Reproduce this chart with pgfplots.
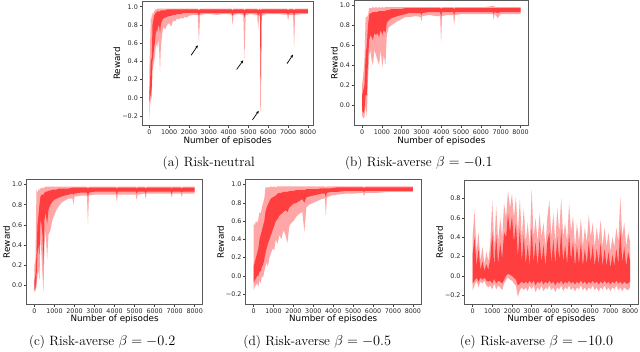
\documentclass[border=0pt]{standalone}
\usepackage{fontspec}
\usepackage{pgfplots}
\usepackage{pgfplotstable}
\pgfplotsset{compat=1.18}
\usepgfplotslibrary{fillbetween}
\usetikzlibrary{arrows.meta}
\newfontfamily\dejavu{DejaVu Sans}
\definecolor{rwd}{RGB}{255,45,45}

% columns: episode, outer max, outer min, dense core max, dense core min
\pgfplotstableread{
x hi lo chi clo
0 0.30 -0.25 0.05 -0.05
40 0.60 -0.08 0.20 0.00
80 0.93 -0.02 0.45 0.05
120 0.85 0.00 0.40 0.10
160 0.93 0.30 0.80 0.40
200 0.92 0.35 0.85 0.45
240 0.95 0.40 0.90 0.55
280 0.96 0.45 0.92 0.60
320 0.97 0.55 0.93 0.70
360 0.97 0.60 0.94 0.75
400 0.98 0.55 0.95 0.72
450 0.98 0.65 0.95 0.80
500 0.98 0.50 0.95 0.78
540 0.98 0.28 0.95 0.70
580 0.98 0.55 0.96 0.80
650 0.98 0.70 0.96 0.85
700 0.98 0.78 0.96 0.87
800 0.98 0.75 0.96 0.88
900 0.98 0.80 0.97 0.89
1000 0.98 0.82 0.97 0.90
1100 0.98 0.78 0.97 0.90
1200 0.98 0.85 0.97 0.91
1300 0.98 0.84 0.97 0.91
1400 0.98 0.87 0.97 0.92
1500 0.98 0.86 0.97 0.92
1600 0.98 0.88 0.97 0.92
1700 0.98 0.87 0.97 0.93
1800 0.98 0.89 0.97 0.93
1900 0.98 0.88 0.97 0.93
2000 0.98 0.90 0.97 0.93
2200 0.98 0.91 0.97 0.93
2440 0.98 0.91 0.97 0.93
2500 0.97 0.60 0.96 0.90
2560 0.98 0.91 0.97 0.93
2800 0.98 0.92 0.97 0.93
3100 0.98 0.92 0.97 0.93
3400 0.98 0.91 0.97 0.93
3700 0.98 0.92 0.97 0.93
4000 0.98 0.92 0.97 0.93
4150 0.98 0.91 0.97 0.93
4200 0.97 0.80 0.96 0.90
4250 0.98 0.91 0.97 0.93
4500 0.98 0.92 0.97 0.93
4740 0.98 0.91 0.97 0.93
4800 0.97 0.43 0.96 0.88
4860 0.98 0.91 0.97 0.93
5100 0.98 0.92 0.97 0.93
5440 0.98 0.91 0.97 0.93
5490 0.97 0.75 0.96 0.90
5540 0.98 0.90 0.97 0.93
5580 0.98 0.90 0.97 0.92
5620 0.97 -0.17 0.96 -0.12
5660 0.98 0.90 0.97 0.93
5900 0.98 0.92 0.97 0.93
6200 0.98 0.92 0.97 0.93
6500 0.98 0.92 0.97 0.93
6950 0.98 0.91 0.97 0.93
7000 0.97 0.85 0.96 0.91
7050 0.98 0.91 0.97 0.93
7250 0.98 0.91 0.97 0.93
7300 0.97 0.55 0.96 0.90
7350 0.98 0.91 0.97 0.93
7700 0.98 0.92 0.97 0.93
8000 0.98 0.92 0.97 0.93
}\ta

\pgfplotstableread{
x hi lo chi clo
0 0.20 -0.10 0.10 -0.05
60 0.30 -0.13 0.15 -0.08
120 0.45 -0.12 0.20 -0.05
180 0.88 0.00 0.50 0.10
240 0.88 -0.12 0.60 0.10
300 0.90 0.25 0.80 0.45
360 0.97 0.50 0.90 0.65
420 0.97 0.55 0.92 0.70
480 0.97 0.45 0.92 0.68
550 0.98 0.40 0.93 0.65
620 0.97 0.55 0.93 0.72
700 0.98 0.50 0.93 0.70
780 0.97 0.45 0.93 0.72
860 0.98 0.40 0.94 0.68
940 0.97 0.55 0.94 0.75
1020 0.98 0.38 0.94 0.70
1100 0.97 0.50 0.94 0.75
1180 0.98 0.40 0.94 0.72
1250 0.98 0.70 0.95 0.82
1350 0.98 0.78 0.95 0.85
1500 0.98 0.80 0.96 0.87
1650 0.98 0.82 0.96 0.88
1800 0.98 0.84 0.96 0.89
2000 0.98 0.86 0.96 0.90
2200 0.98 0.88 0.97 0.91
2400 0.98 0.88 0.97 0.92
2700 0.98 0.89 0.97 0.92
2950 0.98 0.88 0.97 0.92
3000 0.98 0.84 0.97 0.90
3050 0.98 0.89 0.97 0.92
3400 0.98 0.90 0.97 0.93
3700 0.98 0.89 0.97 0.93
3940 0.98 0.89 0.97 0.93
3990 0.97 0.62 0.96 0.88
4040 0.98 0.89 0.97 0.93
4300 0.98 0.90 0.97 0.93
4600 0.98 0.90 0.97 0.93
4650 0.97 0.80 0.96 0.90
4700 0.98 0.90 0.97 0.93
5000 0.98 0.91 0.97 0.93
5400 0.98 0.91 0.97 0.93
5800 0.98 0.91 0.97 0.93
6200 0.98 0.91 0.97 0.93
6600 0.99 0.91 0.97 0.93
6650 0.99 0.85 0.97 0.91
6700 0.98 0.91 0.97 0.93
6850 0.98 0.87 0.97 0.92
7000 0.98 0.91 0.97 0.93
7400 0.98 0.91 0.97 0.93
7800 0.98 0.91 0.97 0.93
8000 0.98 0.91 0.97 0.93
}\tb

\pgfplotstableread{
x hi lo chi clo
0 0.20 -0.07 0.05 -0.05
50 0.25 -0.06 0.10 -0.03
100 0.95 -0.02 0.30 0.05
150 0.92 0.10 0.60 0.30
200 0.95 0.15 0.70 0.40
250 0.95 0.05 0.80 0.30
300 0.96 0.50 0.88 0.65
350 0.97 0.30 0.90 0.60
400 0.96 0.10 0.90 0.50
450 0.97 -0.07 0.90 0.20
500 0.97 0.40 0.92 0.65
560 0.98 0.55 0.93 0.72
630 0.98 0.25 0.93 0.60
700 0.98 0.50 0.94 0.75
800 0.98 0.55 0.94 0.80
900 0.98 0.65 0.95 0.83
1000 0.98 0.70 0.95 0.85
1100 0.98 0.75 0.95 0.86
1200 0.98 0.78 0.96 0.87
1350 0.98 0.82 0.96 0.88
1500 0.98 0.84 0.96 0.89
1700 0.98 0.86 0.96 0.90
1900 0.98 0.86 0.97 0.91
1950 0.98 0.80 0.97 0.90
2000 0.98 0.88 0.97 0.91
2300 0.98 0.89 0.97 0.92
2620 0.98 0.89 0.97 0.92
2670 0.97 0.60 0.96 0.88
2720 0.98 0.89 0.97 0.92
3000 0.98 0.90 0.97 0.93
3400 0.98 0.90 0.97 0.93
3800 0.98 0.90 0.97 0.93
4060 0.98 0.90 0.97 0.93
4110 0.97 0.83 0.96 0.90
4160 0.98 0.90 0.97 0.93
4500 0.98 0.90 0.97 0.93
5050 0.98 0.90 0.97 0.93
5100 0.97 0.85 0.96 0.91
5150 0.98 0.90 0.97 0.93
5500 0.98 0.91 0.97 0.93
5550 0.97 0.86 0.96 0.91
5600 0.98 0.91 0.97 0.93
6200 0.98 0.91 0.97 0.93
6800 0.98 0.91 0.97 0.93
6850 0.98 0.87 0.96 0.91
6900 0.98 0.91 0.97 0.93
7300 0.98 0.91 0.97 0.93
7350 0.97 0.88 0.96 0.92
7400 0.98 0.91 0.97 0.93
8000 0.98 0.91 0.97 0.93
}\tc

\pgfplotstableread{
x hi lo chi clo
0 0.58 -0.16 0.10 -0.08
60 0.55 -0.12 0.15 -0.05
120 0.60 -0.10 0.20 -0.03
180 0.58 -0.08 0.25 0.00
240 0.62 -0.12 0.30 0.00
300 0.70 -0.05 0.40 0.05
360 0.68 -0.08 0.45 0.05
420 0.75 0.00 0.50 0.10
480 0.80 -0.02 0.55 0.12
540 0.85 0.05 0.60 0.18
600 0.97 0.10 0.70 0.25
660 0.97 0.15 0.75 0.30
720 0.97 0.10 0.78 0.35
800 0.97 0.20 0.82 0.40
880 0.98 0.25 0.85 0.45
960 0.97 0.30 0.86 0.50
1040 0.98 0.28 0.87 0.55
1120 0.97 0.40 0.88 0.60
1200 0.98 0.35 0.90 0.62
1300 0.98 0.45 0.91 0.66
1400 0.98 0.40 0.91 0.68
1500 0.98 0.50 0.92 0.70
1600 0.98 0.45 0.92 0.72
1700 0.98 0.36 0.92 0.70
1800 0.98 0.55 0.93 0.75
1900 0.98 0.58 0.93 0.77
2000 0.98 0.60 0.93 0.79
2150 0.98 0.65 0.94 0.80
2300 0.98 0.68 0.94 0.82
2450 0.98 0.70 0.94 0.84
2550 0.98 0.48 0.94 0.80
2650 0.98 0.75 0.95 0.86
2800 0.98 0.78 0.95 0.87
3000 0.98 0.80 0.95 0.88
3200 0.98 0.82 0.95 0.89
3400 0.98 0.84 0.96 0.90
3580 0.98 0.85 0.96 0.90
3630 0.97 0.65 0.96 0.86
3680 0.98 0.86 0.96 0.91
3900 0.98 0.88 0.96 0.92
4200 0.98 0.89 0.97 0.92
4600 0.98 0.90 0.97 0.93
5000 0.98 0.90 0.97 0.93
5500 0.98 0.91 0.97 0.93
5550 0.97 0.87 0.96 0.92
5600 0.98 0.91 0.97 0.93
6200 0.98 0.91 0.97 0.93
6800 0.98 0.92 0.97 0.93
7400 0.98 0.92 0.97 0.93
8000 0.98 0.92 0.97 0.93
}\td

\pgfplotstableread{
x hi lo chi clo
0 0.40 -0.15 0.22 -0.08
100 0.68 -0.10 0.40 -0.05
200 0.25 -0.05 0.10 -0.02
300 0.45 -0.12 0.28 -0.06
400 0.15 -0.06 0.06 -0.02
500 0.30 -0.08 0.15 -0.04
600 0.12 -0.05 0.05 -0.02
700 0.25 -0.10 0.12 -0.05
800 0.15 -0.12 0.06 -0.06
900 0.35 -0.10 0.18 -0.05
1000 0.78 -0.14 0.45 -0.08
1100 0.30 -0.08 0.10 -0.03
1200 0.72 -0.14 0.42 -0.08
1300 0.35 -0.10 0.12 -0.05
1400 0.60 -0.12 0.35 -0.06
1500 0.40 -0.15 0.18 -0.08
1600 0.75 -0.08 0.45 -0.04
1700 0.60 -0.04 0.40 0.00
1800 0.88 -0.02 0.65 0.02
1900 0.70 -0.04 0.45 0.01
2000 0.85 -0.05 0.62 0.00
2100 0.60 -0.08 0.35 -0.02
2200 0.82 -0.10 0.55 -0.04
2300 0.45 -0.22 0.20 -0.10
2400 0.80 -0.15 0.50 -0.08
2500 0.40 -0.12 0.15 -0.06
2600 0.70 -0.15 0.42 -0.08
2700 0.35 -0.12 0.12 -0.06
2800 0.55 -0.16 0.32 -0.08
2900 0.30 -0.10 0.10 -0.05
3000 0.90 -0.14 0.50 -0.08
3100 0.40 -0.10 0.14 -0.05
3200 0.60 -0.17 0.35 -0.10
3300 0.35 -0.12 0.10 -0.06
3400 0.65 -0.15 0.38 -0.08
3500 0.40 -0.10 0.14 -0.05
3600 0.55 -0.16 0.32 -0.09
3700 0.30 -0.12 0.10 -0.06
3800 0.62 -0.14 0.36 -0.08
3900 0.78 -0.10 0.45 -0.05
4000 0.40 -0.15 0.14 -0.08
4100 0.65 -0.12 0.38 -0.06
4200 0.35 -0.17 0.12 -0.10
4300 0.70 -0.12 0.40 -0.06
4400 0.45 -0.14 0.16 -0.08
4500 0.80 -0.10 0.48 -0.05
4600 0.40 -0.16 0.14 -0.09
4700 0.55 -0.12 0.32 -0.06
4800 0.35 -0.14 0.12 -0.08
4900 0.75 -0.10 0.44 -0.05
5000 0.45 -0.15 0.16 -0.08
5100 0.62 -0.12 0.36 -0.06
5200 0.30 -0.16 0.10 -0.09
5300 0.55 -0.12 0.32 -0.06
5400 0.35 -0.14 0.12 -0.08
5500 0.60 -0.10 0.35 -0.05
5600 0.30 -0.15 0.10 -0.08
5700 0.50 -0.12 0.28 -0.06
5800 0.35 -0.16 0.12 -0.09
5900 0.63 -0.12 0.36 -0.06
6000 0.40 -0.14 0.14 -0.08
6100 0.55 -0.10 0.32 -0.05
6200 0.30 -0.15 0.10 -0.08
6300 0.50 -0.12 0.28 -0.06
6400 0.35 -0.16 0.12 -0.09
6500 0.58 -0.12 0.34 -0.06
6600 0.30 -0.14 0.10 -0.08
6700 0.50 -0.10 0.28 -0.05
6800 0.30 -0.15 0.10 -0.08
6900 0.45 -0.12 0.25 -0.06
7000 0.25 -0.16 0.08 -0.09
7100 0.40 -0.12 0.22 -0.06
7200 0.30 -0.14 0.10 -0.08
7300 0.50 -0.10 0.28 -0.05
7400 0.35 -0.15 0.12 -0.08
7500 0.82 -0.12 0.48 -0.06
7600 0.40 -0.16 0.14 -0.09
7700 0.55 -0.12 0.30 -0.06
7800 0.30 -0.14 0.10 -0.08
7900 0.45 -0.15 0.25 -0.08
8000 0.35 -0.12 0.15 -0.06
}\te

\pgfplotsset{
  rplot/.style={
    scale only axis, anchor=south west,
    axis line style={black!65, line width=0.6pt},
    tick style={black!75, line width=0.5pt},
    tick align=outside, major tick length=2.5pt,
    xtick pos=left, ytick pos=left,
    xmin=-400, xmax=8400,
    xtick={0,1000,...,8000},
    xticklabels={0,1000,2000,3000,4000,5000,6000,7000,8000},
    ticklabel style={font=\dejavu\fontsize{6.4}{7}\selectfont, black!85},
    xticklabel style={inner sep=1.5pt},
    yticklabel style={inner sep=1.5pt},
    label style={font=\dejavu\fontsize{8.8}{10}\selectfont},
    xlabel={Number of episodes}, ylabel={Reward},
    xlabel style={yshift=3pt}, ylabel style={yshift=-3pt},
  },
  yA/.style={ytick={-0.2,0,0.2,0.4,0.6,0.8,1.0},
    yticklabels={−0.2,0.0,0.2,0.4,0.6,0.8,1.0}},
  yB/.style={ytick={0,0.2,0.4,0.6,0.8,1.0},
    yticklabels={0.0,0.2,0.4,0.6,0.8,1.0}},
  yE/.style={ytick={-0.2,0,0.2,0.4,0.6,0.8},
    yticklabels={−0.2,0.0,0.2,0.4,0.6,0.8}},
}

\newcommand{\band}[1]{%
  \addplot[draw=none, name path=h] table[x=x,y=hi]{#1};
  \addplot[draw=none, name path=l] table[x=x,y=lo]{#1};
  \addplot[draw=none, name path=ch] table[x=x,y=chi]{#1};
  \addplot[draw=none, name path=cl] table[x=x,y=clo]{#1};
  \addplot[fill=rwd, fill opacity=0.42, draw=none] fill between[of=h and l];
  \addplot[fill=rwd, fill opacity=0.85, draw=none] fill between[of=ch and cl];
}

\begin{document}
\begin{tikzpicture}
\path (0pt,0pt) rectangle (640pt,353pt);

% (a)
\begin{axis}[rplot, yA, at={(140pt,227pt)}, width=172pt, height=125pt,
  xmin=-370, xmax=8270, ymin=-0.309, ymax=1.06]
\band{\ta}
\draw[-{Stealth[length=3pt,width=2.6pt]}, line width=0.7pt] (axis cs:2107,0.466) -- (axis cs:2444,0.575);
\draw[-{Stealth[length=3pt,width=2.6pt]}, line width=0.7pt] (axis cs:4400,0.310) -- (axis cs:4737,0.411);
\draw[-{Stealth[length=3pt,width=2.6pt]}, line width=0.7pt] (axis cs:5203,-0.243) -- (axis cs:5519,-0.145);
\draw[-{Stealth[length=3pt,width=2.6pt]}, line width=0.7pt] (axis cs:6944,0.375) -- (axis cs:7245,0.473);
\end{axis}

% (b)
\begin{axis}[rplot, yB, at={(353pt,227pt)}, width=175pt, height=126pt,
  ymin=-0.205, ymax=1.047]
\band{\tb}
\end{axis}

% (c)
\begin{axis}[rplot, yB, at={(24pt,48pt)}, width=177pt, height=125pt,
  ymin=-0.19, ymax=1.05]
\band{\tc}
\end{axis}

% (d)
\begin{axis}[rplot, yA, at={(244pt,48pt)}, width=176pt, height=125pt,
  ymin=-0.309, ymax=1.055]
\band{\td}
\end{axis}

% (e)
\begin{axis}[rplot, yE, at={(464pt,48pt)}, width=174pt, height=124pt,
  ymin=-0.293, ymax=0.986]
\band{\te}
\end{axis}

\begin{scope}[every node/.style={font=\fontsize{13.5}{15}\selectfont, inner sep=0pt}]
\node at (207pt,189pt) {(a) Risk-neutral};
\node at (418pt,189pt) {(b) Risk-averse $\beta=-0.1$};
\node at (100pt,10pt) {(c) Risk-averse $\beta=-0.2$};
\node at (316pt,10pt) {(d) Risk-averse $\beta=-0.5$};
\node at (536pt,10pt) {(e) Risk-averse $\beta=-10.0$};
\end{scope}
\end{tikzpicture}
\end{document}
